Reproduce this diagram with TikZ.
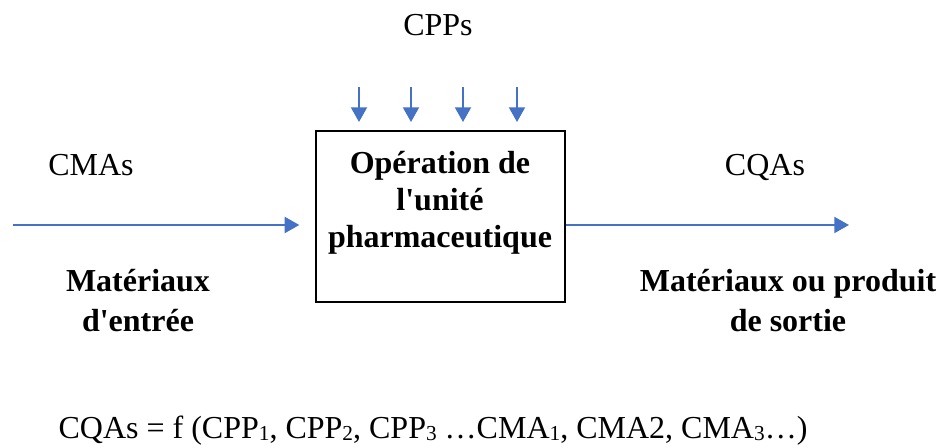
\documentclass[tikz,border=0pt]{standalone}
\usepackage{fontspec}
\setmainfont{Liberation Serif}
\usetikzlibrary{arrows.meta}
\definecolor{flowblue}{HTML}{4472C4}
\newcommand{\lowidx}[1]{\raisebox{-1.5pt}{\fontsize{16}{16}\selectfont #1}}
\begin{document}
\begin{tikzpicture}[x=0.75pt,y=-0.75pt,
  txt/.style={font=\fontsize{24}{30}\selectfont, inner sep=0pt, anchor=base, align=center},
  boldtxt/.style={txt, font=\fontsize{24}{28}\selectfont\bfseries},
  flow/.style={draw=flowblue, line width=1.5pt, -{Triangle[length=11pt,width=12pt]}, color=flowblue},
  opbox/.style={draw=black, line width=1pt, minimum width=249*0.75pt, minimum height=171*0.75pt, inner sep=0pt}]
\useasboundingbox (0,0) rectangle (940,448);
% process block
\node[opbox] (op) at (440.5,216.5) {};
% multi-line nodes are placed by the baseline of their last line
\node[boldtxt] (optext) at (440,248) {Opération de\\l\textquotesingle unité\\pharmaceutique};
% process parameters entering from above
\node[txt] (cpp) at (438,36) {CPPs};
\foreach \i/\x in {1/359,2/411,3/463,4/517}{
  \coordinate (p\i) at (\x,87);
  \coordinate (q\i) at (\x,131);
  \draw[flow, shorten >=9*0.75pt] (p\i) -- (q\i);
}
% input and output flows
\coordinate (in) at (13,225);
\coordinate (out) at (849,225);
\draw[flow, shorten >=16*0.75pt] (in) -- (op.west |- in);
\draw[flow] (op.east |- out) -- (out);
\node[txt] (cma) at (91,176) {CMAs};
\node[txt] (cqa) at (765,176) {CQAs};
\node[boldtxt, font=\fontsize{24}{30}\selectfont\bfseries] (inmat) at (138,332) {Matériaux\\d\textquotesingle entrée};
\node[boldtxt, font=\fontsize{24}{30}\selectfont\bfseries] (outmat) at (788,332) {Matériaux ou produit\\de sortie};
% relation
\node[txt] (rel) at (433,439) {CQAs = f (CPP\lowidx{1}, CPP\lowidx{2}, CPP\lowidx{3} …CMA\lowidx{1}, CMA2, CMA\lowidx{3}…)};
\end{tikzpicture}
\end{document}
